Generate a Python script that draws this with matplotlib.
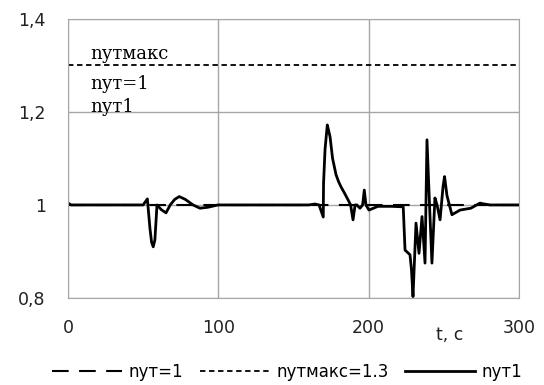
import numpy as np
import matplotlib
matplotlib.use("Agg")
import matplotlib.pyplot as plt

# nyt1 curve
t = [0, 2, 5, 30, 50, 52.8, 54.5, 55.6, 56.7, 57.8, 59.2, 62, 65.2, 68, 71, 74.0, 78, 83.2, 87.8, 93, 99.8,
     120, 150, 160, 164.3, 167, 169.8, 170.0, 171, 172.5, 173, 174.3, 176, 178.3, 180, 181.6,
     184, 186.3, 188, 189.6, 191, 192.2, 194.2, 196, 197.1, 198.2, 200.2, 206.2, 215,
     223.0, 224.2, 227.5, 228.5, 229.5, 231.5, 233.5, 235.5, 237.5, 238.8, 240.5, 242.1,
     244.1, 245.5, 247.5, 249.5, 250.5, 252.1, 255.4, 260.8, 268, 274.1, 275.2, 280.7, 300]
nyt1 = [1.004, 1.0, 1.0, 1.0, 1.0, 1.013, 0.95, 0.92, 0.910, 0.925, 1.0, 0.99, 0.983, 1.0, 1.012, 1.018, 1.012, 1.0, 0.993, 0.995, 1.0,
        1.0, 1.0, 1.0, 1.002, 1.0, 0.974, 1.047, 1.12, 1.172, 1.165, 1.147, 1.10, 1.065, 1.05, 1.039,
        1.025, 1.011, 1.0, 0.968, 1.0, 1.0, 0.993, 1.0, 1.032, 1.0, 0.989, 0.997, 0.997,
        0.996, 0.903, 0.893, 0.86, 0.803, 0.961, 0.896, 0.975, 0.875, 1.140, 1.0, 0.875,
        1.015, 1.0, 0.968, 1.040, 1.061, 1.02, 0.979, 0.989, 0.993, 1.004, 1.003, 1.0, 1.0]

t_lim = [0, 300]
nyt_eq1 = [1.0, 1.0]
nyt_max = [1.3, 1.3]

xticks = [0, 100, 200, 300]
yticks = [0.8, 1.0, 1.2, 1.4]
ytick_labels = ['0,8', '1', '1,2', '1,4']

fig = plt.figure(figsize=(5.44, 3.85), dpi=100)
ax = fig.add_axes([0.125, 0.226, 0.829, 0.725])

ax.plot(t_lim, nyt_eq1, color='black', lw=1.5, dashes=(8, 5), label='nут=1')
ax.plot(t_lim, nyt_max, color='black', lw=1.3, dashes=(3, 2), label='nутмакс=1.3')
ax.plot(t, nyt1, color='black', lw=2, solid_joinstyle='round', label='nут1')

ax.set_xlim(0, 300)
ax.set_ylim(0.8, 1.4)
ax.set_xticks(xticks)
ax.set_yticks(yticks)
ax.set_yticklabels(ytick_labels)
ax.tick_params(length=0, labelsize=12.5, colors='#222222')
ax.tick_params(axis='y', pad=16)
ax.tick_params(axis='x', pad=15)
ax.grid(True, color='#a6a6a6', lw=1)
ax.set_axisbelow(True)
for s in ax.spines.values():
    s.set_color('#a6a6a6')

ax.text(0.847, -0.133, 't, c', transform=ax.transAxes, fontsize=12.5, color='#222222',
        ha='center', va='center')

for yy, s in [(1.324, 'nутмакс'), (1.261, 'nут=1'), (1.211, 'nут1')]:
    ax.text(15, yy, s, family='DejaVu Serif', fontsize=13, va='center')

ax.legend(loc='center', bbox_to_anchor=(0.486, -0.265), ncol=3, frameon=False,
          fontsize=12, handlelength=4.2, columnspacing=1.0, handletextpad=0.4)

fig.savefig('out.png', dpi=100)
